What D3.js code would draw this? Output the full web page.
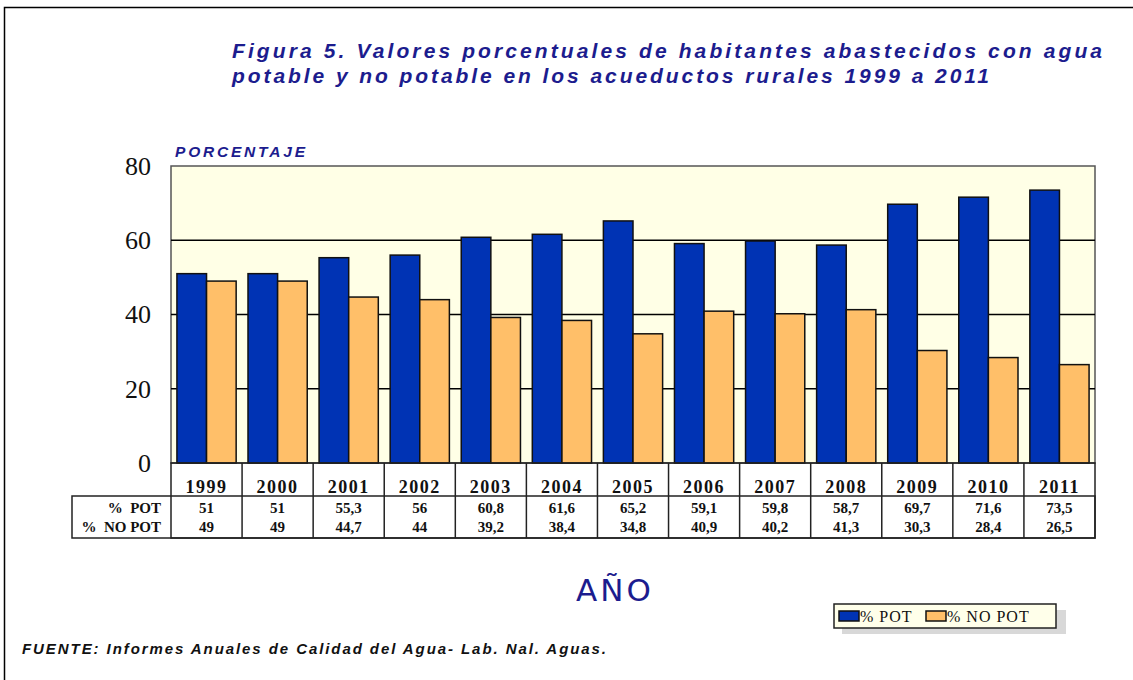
<!DOCTYPE html>
<html>
<head>
<meta charset="utf-8">
<script src="https://cdn.jsdelivr.net/npm/d3@7"></script>
<style>
  body { margin: 0; background: #fff; }
  svg { display: block; }
</style>
</head>
<body>
<svg width="1133" height="680"></svg>
<script>
// data
const years = ["1999","2000","2001","2002","2003","2004","2005","2006","2007","2008","2009","2010","2011"]
const pot = [51, 51, 55.3, 56, 60.8, 61.6, 65.2, 59.1, 59.8, 58.7, 69.7, 71.6, 73.5]
const noPot = [49, 49, 44.7, 44, 39.2, 38.4, 34.8, 40.9, 40.2, 41.3, 30.3, 28.4, 26.5]
const yTicks = [0, 20, 40, 60, 80]
const seriesNames = ["% POT", "% NO POT"]
const seriesColors = ["#0033b4", "#ffbf69"]
const fmt = v => String(v).replace(".", ",")

const svg = d3.select("svg")
const navy = "#1c1c8e"
const serif = "'Liberation Serif', 'DejaVu Serif', serif"
const sans = "'Liberation Sans', Arial, sans-serif"

// page frame
svg.append("path")
  .attr("d", "M4.5,680 V7.5 H1133")
  .attr("fill", "none").attr("stroke", "#000").attr("stroke-width", 1.5)

// title
const title = svg.append("g")
  .attr("fill", navy)
  .attr("font-family", sans)
  .attr("font-style", "italic")
  .attr("font-weight", "bold")
  .attr("font-size", 21)
title.append("text").attr("x", 232).attr("y", 58)
  .attr("textLength", 870).attr("lengthAdjust", "spacing")
  .text("Figura 5. Valores porcentuales de habitantes abastecidos con agua")
title.append("text").attr("x", 232).attr("y", 83)
  .attr("textLength", 757).attr("lengthAdjust", "spacing")
  .text("potable y no potable en los acueductos rurales 1999 a 2011")

const plot = {left: 171, right: 1095, top: 166, bottom: 463}

const x = d3.scaleBand().domain(years).range([plot.left, plot.right])
const x1 = d3.scaleBand().domain(seriesNames).range([0, x.bandwidth()]).paddingOuter(0.2)
const y = d3.scaleLinear().domain([0, 80]).range([plot.bottom, plot.top])

// plot background
svg.append("rect")
  .attr("x", plot.left).attr("y", plot.top)
  .attr("width", plot.right - plot.left).attr("height", plot.bottom - plot.top)
  .attr("fill", "#ffffe6").attr("stroke", "#555").attr("stroke-width", 1.5)

// grid lines
svg.append("g")
  .selectAll("line")
  .data(yTicks.filter(d => d > 0 && d < 80))
  .join("line")
  .attr("x1", plot.left).attr("x2", plot.right)
  .attr("y1", d => y(d)).attr("y2", d => y(d))
  .attr("stroke", "#000").attr("stroke-width", 1.5)

// y axis labels
const yAxis = svg.append("g")
  .attr("transform", `translate(${plot.left},0)`)
  .call(d3.axisLeft(y).tickValues(yTicks).tickSize(0).tickPadding(20))
yAxis.select(".domain").remove()
yAxis.selectAll("text")
  .attr("font-family", serif)
  .attr("font-size", 26)
  .attr("fill", "#111")

svg.append("text")
  .attr("x", 175).attr("y", 157)
  .attr("fill", navy)
  .attr("font-family", sans).attr("font-style", "italic").attr("font-weight", "bold")
  .attr("font-size", 15.5)
  .attr("textLength", 130).attr("lengthAdjust", "spacing")
  .text("PORCENTAJE")

// bars
const rows = years.map((yr, i) => ({year: yr, vals: [pot[i], noPot[i]]}))
svg.append("g")
  .selectAll("g")
  .data(rows)
  .join("g")
  .attr("transform", d => `translate(${x(d.year)},0)`)
  .selectAll("rect")
  .data(d => d.vals.map((v, j) => ({name: seriesNames[j], v, c: seriesColors[j]})))
  .join("rect")
  .attr("x", d => x1(d.name))
  .attr("width", x1.bandwidth())
  .attr("y", d => y(d.v))
  .attr("height", d => y(0) - y(d.v))
  .attr("fill", d => d.c)
  .attr("stroke", "#111").attr("stroke-width", 1.5)

// data table
const tbl = {headTop: plot.bottom, headBottom: 496, bottom: 538, labelLeft: 72}
const tg = svg.append("g").attr("stroke", "#222").attr("stroke-width", 1.5).attr("fill", "none")
tg.append("rect")
  .attr("x", plot.left).attr("y", tbl.headTop)
  .attr("width", plot.right - plot.left).attr("height", tbl.bottom - tbl.headTop)
tg.append("rect")
  .attr("x", tbl.labelLeft).attr("y", tbl.headBottom)
  .attr("width", plot.right - tbl.labelLeft).attr("height", tbl.bottom - tbl.headBottom)
tg.selectAll("line.col")
  .data(years.slice(1))
  .join("line")
  .attr("x1", d => x(d)).attr("x2", d => x(d))
  .attr("y1", tbl.headTop).attr("y2", tbl.bottom)

svg.append("g")
  .selectAll("text")
  .data(years)
  .join("text")
  .attr("x", d => x(d) + x.bandwidth() / 2)
  .attr("y", 493)
  .attr("text-anchor", "middle")
  .attr("font-family", serif).attr("font-weight", "bold").attr("font-size", 18)
  .attr("letter-spacing", 1.5)
  .attr("fill", "#111")
  .text(d => d)

const tableRows = [[seriesNames[0], pot, 513], [seriesNames[1], noPot, 532]]
tableRows.forEach(([name, vals, yy]) => {
  svg.append("text")
    .attr("x", 161).attr("y", yy)
    .attr("text-anchor", "end")
    .attr("font-family", serif).attr("font-weight", "bold").attr("font-size", 15)
    .attr("fill", "#111")
    .attr("xml:space", "preserve")
    .text(name.replace(" ", "  "))
  svg.append("g")
    .selectAll("text")
    .data(years)
    .join("text")
    .attr("x", d => x(d) + x.bandwidth() / 2)
    .attr("y", yy)
    .attr("text-anchor", "middle")
    .attr("font-family", serif).attr("font-weight", "bold").attr("font-size", 15)
    .attr("fill", "#111")
    .text((d, i) => fmt(vals[i]))
})

// x axis title
svg.append("text")
  .attr("x", 615).attr("y", 601)
  .attr("text-anchor", "middle")
  .attr("fill", navy)
  .attr("font-family", "'DejaVu Sans', Verdana, sans-serif")
  .attr("font-size", 31)
  .attr("letter-spacing", 3)
  .text("AÑO")

// legend
const lg = svg.append("g").attr("transform", "translate(834,604)")
lg.append("rect").attr("x", 8).attr("y", 6).attr("width", 224).attr("height", 24).attr("fill", "#d8d8d8")
lg.append("rect").attr("width", 222).attr("height", 24)
  .attr("fill", "#ffffea").attr("stroke", "#222").attr("stroke-width", 1.5)
const items = lg.selectAll("g.item")
  .data(seriesNames)
  .join("g")
  .attr("transform", (d, i) => `translate(${[5, 92][i]},0)`)
items.append("rect")
  .attr("y", 7).attr("width", 20).attr("height", 10)
  .attr("fill", (d, i) => seriesColors[i])
  .attr("stroke", "#111").attr("stroke-width", 1.5)
items.append("text")
  .attr("x", 21).attr("y", 18)
  .attr("font-family", serif).attr("font-size", 16)
  .attr("letter-spacing", 1)
  .attr("fill", "#111")
  .text(d => d)

// source
svg.append("text")
  .attr("x", 22).attr("y", 654)
  .attr("fill", "#111")
  .attr("font-family", sans).attr("font-style", "italic").attr("font-weight", "bold")
  .attr("font-size", 15)
  .attr("textLength", 584).attr("lengthAdjust", "spacing")
  .text("FUENTE: Informes Anuales de Calidad del Agua- Lab. Nal. Aguas.")
</script>
</body>
</html>
